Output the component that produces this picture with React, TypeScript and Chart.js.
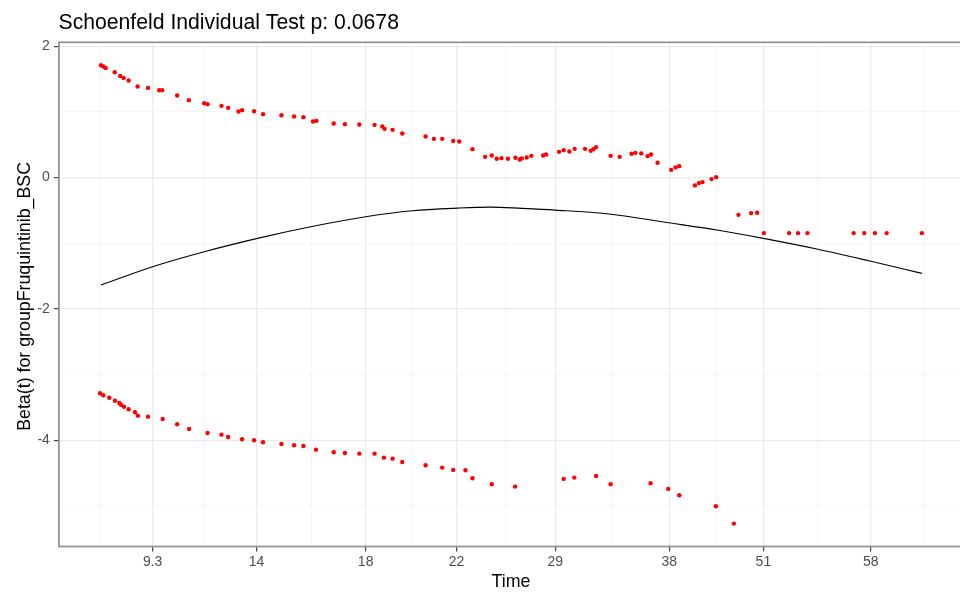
import React, { useEffect, useRef } from 'react';
import { Chart, registerables } from 'chart.js';

Chart.register(...registerables);

const titleText = 'Schoenfeld Individual Test p: 0.0678';
const xTitle = 'Time';
const yTitle = 'Beta(t) for groupFruquintinib_BSC';

// x axis is the transformed (km) time scale; ticks are shown with original time labels
const xTickPos = [0.0629, 0.1894, 0.3224, 0.4331, 0.5535, 0.6922, 0.8069, 0.9376];
const xTickLabels = ['9.3', '14', '18', '22', '29', '38', '51', '58'];
const yTickVals = [-4, -2, 0, 2];
const yMinorVals = [-5, -3, -1, 1];

// Upper band of scaled Schoenfeld residuals
const upperX = [
  0.0000, 0.0028, 0.0057, 0.0167, 0.0235, 0.0276, 0.0337, 0.0446, 0.0572, 0.0709,
  0.0746, 0.0928, 0.1071, 0.1257, 0.1298, 0.1468, 0.1549, 0.1675, 0.1719, 0.1865,
  0.1974, 0.2198, 0.2352, 0.2466, 0.2583, 0.2624, 0.2835, 0.2972, 0.3147, 0.3333,
  0.3427, 0.3455, 0.3552, 0.3670, 0.3954, 0.4055, 0.4157, 0.4291, 0.4364, 0.4526,
  0.4680, 0.4760, 0.4821, 0.4878, 0.4957, 0.5049, 0.5101, 0.5125, 0.5186, 0.5243,
  0.5386, 0.5422, 0.5580, 0.5636, 0.5706, 0.5770, 0.5897, 0.5965, 0.5998, 0.6031,
  0.6208, 0.6318, 0.6464, 0.6509, 0.6582, 0.6658, 0.6700, 0.6780, 0.6946, 0.6999,
  0.7044, 0.7235, 0.7284, 0.7327, 0.7437, 0.7494, 0.7765, 0.7920, 0.7993, 0.8074,
  0.8382, 0.8491, 0.8605, 0.9169, 0.9298, 0.9428, 0.9571, 1.0000,
];
const upperY = [
  1.710, 1.690, 1.669, 1.604, 1.547, 1.517, 1.477, 1.386, 1.365, 1.330,
  1.330, 1.249, 1.178, 1.132, 1.117, 1.091, 1.061, 1.006, 1.026, 1.010,
  0.965, 0.949, 0.930, 0.919, 0.854, 0.863, 0.823, 0.813, 0.808, 0.802,
  0.778, 0.741, 0.726, 0.671, 0.625, 0.589, 0.589, 0.558, 0.549, 0.432,
  0.315, 0.336, 0.285, 0.295, 0.285, 0.300, 0.275, 0.291, 0.306, 0.330,
  0.336, 0.351, 0.391, 0.417, 0.397, 0.437, 0.437, 0.406, 0.432, 0.463,
  0.330, 0.315, 0.361, 0.376, 0.367, 0.326, 0.351, 0.224, 0.117, 0.154,
  0.173, -0.120, -0.085, -0.070, -0.024, 0.006, -0.568, -0.542, -0.537, -0.846,
  -0.846, -0.846, -0.846, -0.846, -0.846, -0.846, -0.846, -0.846,
];

// Lower band of scaled Schoenfeld residuals
const lowerX = [
  -0.0012, 0.0028, 0.0101, 0.0170, 0.0223, 0.0243, 0.0280, 0.0337, 0.0414, 0.0450,
  0.0572, 0.0751, 0.0928, 0.1074, 0.1298, 0.1468, 0.1549, 0.1719, 0.1865, 0.1974,
  0.2198, 0.2352, 0.2466, 0.2619, 0.2835, 0.2972, 0.3147, 0.3333, 0.3447, 0.3552,
  0.3670, 0.3954, 0.4157, 0.4291, 0.4440, 0.4526, 0.4760, 0.5045, 0.5636, 0.5766,
  0.6031, 0.6208, 0.6695, 0.6910, 0.7044, 0.7490, 0.7709,
];
const lowerY = [
  -3.285, -3.316, -3.352, -3.398, -3.433, -3.459, -3.489, -3.529, -3.574, -3.626,
  -3.641, -3.676, -3.757, -3.828, -3.889, -3.915, -3.950, -3.985, -4.000, -4.031,
  -4.057, -4.076, -4.087, -4.143, -4.183, -4.194, -4.204, -4.204, -4.265, -4.280,
  -4.331, -4.381, -4.417, -4.452, -4.457, -4.578, -4.670, -4.706, -4.589, -4.569,
  -4.544, -4.670, -4.655, -4.741, -4.837, -5.005, -5.269,
];

// Smoothed beta(t) fit
const fitX = [
  0.0000, 0.0629, 0.1257, 0.1906, 0.2555, 0.3224, 0.3792, 0.4340, 0.4745, 0.5130,
  0.5535, 0.6164, 0.6914, 0.7502, 0.8069, 0.8719, 0.9367, 1.0000,
];
const fitY = [
  -1.637, -1.359, -1.131, -0.927, -0.750, -0.598, -0.507, -0.466, -0.450, -0.470,
  -0.496, -0.552, -0.689, -0.800, -0.927, -1.089, -1.272, -1.459,
];

const CANVAS_W = 975;
const CANVAS_H = 592;
const FONT = '"Liberation Sans", Arial, Helvetica, sans-serif';

function expand(vals: number[], mult = 0.05) {
  const lo = Math.min(...vals);
  const hi = Math.max(...vals);
  const pad = (hi - lo) * mult;
  return [lo - pad, hi + pad];
}

function xMinorTicks() {
  const res: number[] = [];
  const first = xTickPos[0] - (xTickPos[1] - xTickPos[0]) / 2;
  res.push(first);
  for (let i = 0; i < xTickPos.length - 1; i++) res.push((xTickPos[i] + xTickPos[i + 1]) / 2);
  const n = xTickPos.length;
  res.push(xTickPos[n - 1] + (xTickPos[n - 1] - xTickPos[n - 2]) / 2);
  return res;
}

const isMajorX = (v: number) => xTickPos.some((p) => Math.abs(p - v) < 1e-9);
const isMajorY = (v: number) => yTickVals.some((p) => Math.abs(p - v) < 1e-9);

export default function App() {
  const ref = useRef<HTMLCanvasElement | null>(null);

  useEffect(() => {
    if (!ref.current) return;
    const [xMin, xMax] = expand([...upperX, ...lowerX, ...fitX]);
    const [yMin, yMax] = expand([...upperY, ...lowerY, ...fitY]);
    const xAll = [...xTickPos, ...xMinorTicks()].filter((v) => v >= xMin && v <= xMax).sort((a, b) => a - b);
    const yAll = [...yTickVals, ...yMinorVals].filter((v) => v >= yMin && v <= yMax).sort((a, b) => a - b);

    const decor = {
      id: 'decor',
      afterDraw(chart: any) {
        const { ctx, chartArea: a } = chart;
        ctx.save();
        ctx.strokeStyle = '#8F8F8F';
        ctx.lineWidth = 1.7;
        ctx.strokeRect(a.left, a.top, a.right - a.left, a.bottom - a.top);
        ctx.fillStyle = '#000000';
        ctx.textBaseline = 'alphabetic';
        ctx.font = `21.2px ${FONT}`;
        ctx.textAlign = 'left';
        ctx.fillText(titleText, 58.5, 29.3);
        ctx.font = `17.8px ${FONT}`;
        ctx.textAlign = 'center';
        ctx.fillText(xTitle, (a.left + a.right) / 2, 586.5);
        ctx.translate(30, (a.top + a.bottom) / 2 + 2);
        ctx.rotate(-Math.PI / 2);
        ctx.fillText(yTitle, 0, 0);
        ctx.restore();
      },
    };

    const chart = new Chart(ref.current, {
      type: 'scatter',
      data: {
        datasets: [
          {
            type: 'line',
            data: fitX.map((x, i) => ({ x, y: fitY[i] })),
            borderColor: '#000000',
            borderWidth: 1.1,
            pointRadius: 0,
            cubicInterpolationMode: 'monotone',
            fill: false,
          } as any,
          {
            data: upperX.map((x, i) => ({ x, y: upperY[i] })),
            backgroundColor: '#FF0000',
            borderColor: '#FF0000',
            borderWidth: 0,
            pointRadius: 2.2,
          },
          {
            data: lowerX.map((x, i) => ({ x, y: lowerY[i] })),
            backgroundColor: '#FF0000',
            borderColor: '#FF0000',
            borderWidth: 0,
            pointRadius: 2.2,
          },
        ],
      },
      options: {
        responsive: false,
        animation: false,
        devicePixelRatio: 1,
        layout: { padding: { top: 42.3, right: CANVAS_W - 963, left: 0, bottom: 0 } },
        plugins: {
          legend: { display: false },
          tooltip: { enabled: false },
          title: { display: false },
        },
        scales: {
          x: {
            type: 'linear',
            min: xMin,
            max: xMax,
            afterBuildTicks: (scale: any) => {
              scale.ticks = xAll.map((v) => ({ value: v }));
            },
            afterFit: (scale: any) => {
              scale.height = CANVAS_H - 546.5;
            },
            border: { display: false },
            grid: {
              color: (c: any) => (c.tick && isMajorX(c.tick.value) ? '#EBEBEB' : '#F4F4F4'),
              lineWidth: (c: any) => (c.tick && isMajorX(c.tick.value) ? 1.3 : 0.8),
              tickColor: (c: any) => (c.tick && isMajorX(c.tick.value) ? '#333333' : 'rgba(0,0,0,0)'),
              tickWidth: 1.1,
              tickLength: 5,
              drawTicks: true,
            },
            ticks: {
              autoSkip: false,
              maxRotation: 0,
              minRotation: 0,
              padding: 2,
              color: '#4D4D4D',
              font: { family: FONT, size: 14 },
              callback: (v: any) => {
                const i = xTickPos.findIndex((p) => Math.abs(p - Number(v)) < 1e-9);
                return i >= 0 ? xTickLabels[i] : '';
              },
            },
          },
          y: {
            type: 'linear',
            min: yMin,
            max: yMax,
            afterBuildTicks: (scale: any) => {
              scale.ticks = yAll.map((v) => ({ value: v }));
            },
            afterFit: (scale: any) => {
              scale.width = 58.9;
            },
            border: { display: false },
            grid: {
              color: (c: any) => (c.tick && isMajorY(c.tick.value) ? '#EBEBEB' : '#F4F4F4'),
              lineWidth: (c: any) => (c.tick && isMajorY(c.tick.value) ? 1.3 : 0.8),
              tickColor: (c: any) => (c.tick && isMajorY(c.tick.value) ? '#333333' : 'rgba(0,0,0,0)'),
              tickWidth: 1.1,
              tickLength: 5,
              drawTicks: true,
            },
            ticks: {
              autoSkip: false,
              padding: 4,
              color: '#4D4D4D',
              font: { family: FONT, size: 14 },
              callback: (v: any) => (isMajorY(Number(v)) ? String(Number(v)) : ''),
            },
          },
        },
      },
      plugins: [decor],
    } as any);

    return () => chart.destroy();
  }, []);

  return (
    <div
      style={{
        position: 'fixed',
        left: 0,
        top: 0,
        width: 960,
        height: 592,
        overflow: 'hidden',
        background: '#FFFFFF',
      }}
    >
      <canvas
        ref={ref}
        width={CANVAS_W}
        height={CANVAS_H}
        style={{ display: 'block', width: CANVAS_W, height: CANVAS_H }}
      />
    </div>
  );
}
